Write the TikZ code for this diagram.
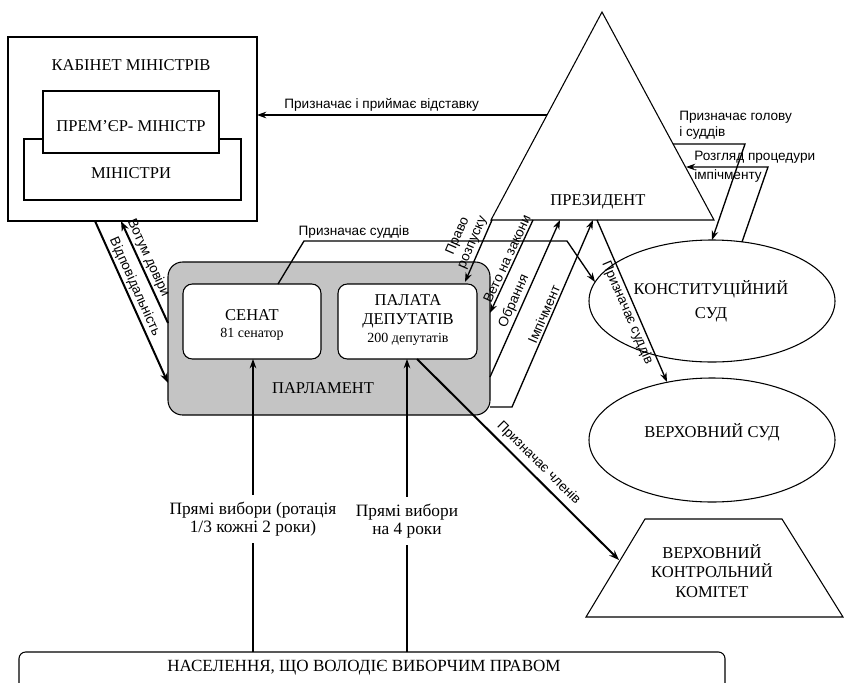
\documentclass[tikz,border=0pt]{standalone}
\usepackage{fontspec}
\setmainfont{Liberation Serif}
\newfontfamily\lsans{Liberation Sans}
\usetikzlibrary{arrows.meta}
\definecolor{parlgray}{RGB}{196,196,196}
\begin{document}
\begin{tikzpicture}[x=0.75pt,y=-0.75pt,
  box/.style={draw=black,line width=0.8pt},
  ser/.style={font=\fontsize{12.4}{15}\selectfont, align=center, inner sep=0pt},
  sers/.style={font=\fontsize{10.5}{12}\selectfont, align=center, inner sep=0pt},
  lab/.style={font=\lsans\fontsize{10.2}{12}\selectfont, align=center, inner sep=1.5pt},
  arr/.style={line width=1pt,-{Stealth[length=7pt,width=5pt]}},
  tarr/.style={line width=1.5pt,-{Stealth[length=7.5pt,width=5.5pt]}},
  ln/.style={line width=1pt}]
\clip (0,0) rectangle (844,683);
\fill[white] (0,0) rectangle (844,683);

% ---------- Cabinet ----------
\draw[box] (8,37) rectangle (257,221);
\draw[box,fill=white] (24,139) rectangle (241,200);
\draw[box,fill=white] (43,91) rectangle (219,153);
\node[ser] (cab) at (131,65) {КАБІНЕТ МІНІСТРІВ};
\node[ser] (pm) at (131,126) {ПРЕМ’ЄР- МІНІСТР};
\node[ser] (min) at (131,173) {МІНІСТРИ};

% ---------- President ----------
\draw[box] (602,12) -- (714,220) -- (491,220) -- cycle;
\node[ser] (pres) at (598,202) {ПРЕЗИДЕНТ};

% ---------- Parliament ----------
\draw[box,fill=parlgray,rounded corners=11pt] (168,262) rectangle (490,415);
\draw[box,fill=white,rounded corners=7pt] (183,284) rectangle (321,359);
\draw[box,fill=white,rounded corners=7pt] (338,284) rectangle (477,359);
\node[ser] (parl) at (323,388) {ПАРЛАМЕНТ};
\node[ser] (sen) at (252,315) {СЕНАТ};
\node[sers] (sen2) at (252,334) {81 сенатор};
\node[ser,font=\fontsize{12.4}{14.5}\selectfont] (pal) at (408,311) {ПАЛАТА\\ДЕПУТАТІВ};
\node[sers] (pal2) at (408,339) {200 депутатів};

% ---------- Courts ----------
\draw[box] (712,301) ellipse [x radius=123, y radius=61];
\node[ser,font=\fontsize{12.4}{18}\selectfont] (cc) at (711,301) {КОНСТИТУЦІЙНИЙ\\СУД};
\draw[box] (712,440) ellipse [x radius=123, y radius=62];
\node[ser] (sc) at (712,432) {ВЕРХОВНИЙ СУД};

% ---------- Control committee ----------
\draw[box] (645,519) -- (782,519) -- (843,617) -- (586,617) -- cycle;
\node[ser,font=\fontsize{12.4}{14.5}\selectfont] (vkk) at (712,571) {ВЕРХОВНИЙ\\КОНТРОЛЬНИЙ\\КОМІТЕТ};

% ---------- Population ----------
\draw[box,rounded corners=5pt] (19,652) rectangle (725,710);
\node[ser,font=\fontsize{12.8}{14}\selectfont] (pop) at (364,668) {НАСЕЛЕННЯ, ЩО ВОЛОДІЄ ВИБОРЧИМ ПРАВОМ};

% ---------- coordinates ----------
\coordinate (tL115) at (547,115);
\coordinate (cabR) at (257,115);
\coordinate (tR144) at (673,144);
\coordinate (c1) at (745,144);
\coordinate (ccTop1) at (712,240);
\coordinate (ccTop2) at (742,242);
\coordinate (c2) at (768,167);
\coordinate (tR167) at (686,167);
\coordinate (senTop) at (278,284);
\coordinate (c3) at (304,241);
\coordinate (c4) at (567,241);
\coordinate (ccLeft) at (595,282);
\coordinate (tB1) at (492,220);
\coordinate (palTop) at (465,282);
\coordinate (tB2) at (533,220);
\coordinate (parR1) at (490,313);
\coordinate (parR2) at (490,377);
\coordinate (tB3) at (560,220);
\coordinate (parR3) at (490,407);
\coordinate (c5) at (512,407);
\coordinate (tB4) at (593,220);
\coordinate (tB5) at (597,220);
\coordinate (scTop) at (667,382);
\coordinate (parL1) at (168,323);
\coordinate (cabB1) at (121,221);
\coordinate (cabB2) at (95,221);
\coordinate (parL2) at (168,383);
\coordinate (palB) at (417,359);
\coordinate (vkkL) at (619,560);
\coordinate (senB) at (253,359);
\coordinate (palB2) at (407,359);
\coordinate (pop1) at (253,652);
\coordinate (pop2) at (407,652);

% ---------- connectors ----------
\draw[arr] (tL115) -- node[lab,pos=0.57,above=1pt] {Призначає і приймає відставку} (cabR);

\draw[arr] (tR144) -- (c1) -- (ccTop1);
\node[lab,anchor=south west,align=left] (l1) at (677,142) {Призначає голову\\і суддів};

\draw[arr] (ccTop2) -- (c2) -- (tR167);
\node[lab,anchor=west,align=left,font=\lsans\fontsize{10.2}{14}\selectfont] (l2) at (692,167) {Розгляд процедури\\імпічменту};

\draw[arr] (senTop) -- (c3) -- node[lab,pos=0.19,above=0pt] {Призначає суддів} (c4) -- (ccLeft);

\draw[arr] (tB1) -- node[lab,sloped,above,pos=0.42] {Право\\розпуску} (palTop);
\draw[arr] (tB2) -- node[lab,sloped,above,pos=0.45] {Вето на закони} (parR1);
\draw[arr] (parR2) -- node[lab,sloped,above,pos=0.46] {Обрання} (tB3);
\draw[arr] (parR3) -- (c5) -- node[lab,sloped,above,pos=0.48] {Імпічмент} (tB4);
\draw[arr] (tB5) -- node[lab,sloped,below,pos=0.55] {Призначає суддів} (scTop);

\draw[tarr] (parL1) -- node[lab,sloped,above,pos=0.6] {Вотум довіри} (cabB1);
\draw[tarr] (cabB2) -- node[lab,sloped,above,pos=0.43] {Відповідальність} (parL2);
\draw[tarr] (palB) -- node[lab,sloped,above=2pt,pos=0.56] {Призначає членів} (vkkL);

\node[ser,font=\fontsize{13}{13.7}\selectfont,inner sep=5pt] (e1) at (253,519) {Прямі вибори (ротація\\1/3 кожні 2 роки)};
\node[ser,font=\fontsize{13}{13.7}\selectfont,inner sep=5pt] (e2) at (407,521) {Прямі вибори\\на 4 роки};
\draw[arr] (e1.north) -- (senB);
\draw[ln] (pop1) -- (e1.south);
\draw[arr] (e2.north) -- (palB2);
\draw[ln] (pop2) -- (e2.south);
\end{tikzpicture}
\end{document}
